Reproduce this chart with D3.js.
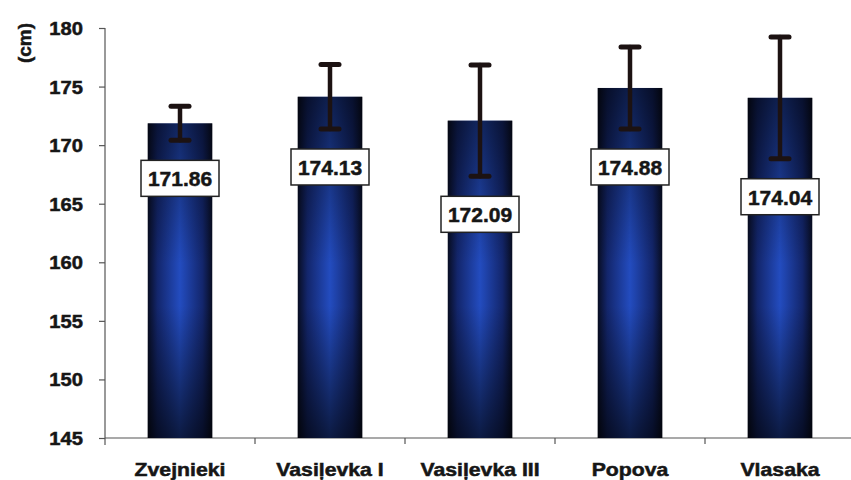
<!DOCTYPE html>
<html>
<head>
<meta charset="utf-8">
<script src="https://cdn.jsdelivr.net/npm/d3@7"></script>
<style>
  html, body { margin: 0; padding: 0; background: #ffffff; }
  svg { display: block; }
  text { font-family: "Liberation Sans", Arial, sans-serif; font-weight: bold; fill: #161616; stroke: #161616; stroke-width: 0.5px; }
</style>
</head>
<body>
<svg id="chart" width="851" height="480"></svg>
<script>
// ---- data ----
const categories = ["Zvejnieki", "Vasiļevka I", "Vasiļevka III", "Popova", "Vlasaka"];
const means = [171.86, 174.13, 172.09, 174.88, 174.04];
const errors = [1.45, 2.75, 4.75, 3.5, 5.2];
const yTicks = [145, 150, 155, 160, 165, 170, 175, 180];
const yLabel = "(cm)";

// ---- layout ----
const W = 851, H = 480;
const plotLeft = 105, plotTop = 28, plotBottom = 438, plotRight = 855;

const svg = d3.select("#chart");
const defs = svg.append("defs");

const hg = defs.append("linearGradient").attr("id", "barH")
  .attr("x1", "0").attr("x2", "1").attr("y1", "0").attr("y2", "0");
hg.append("stop").attr("offset", "0%").attr("stop-color", "#080d22");
hg.append("stop").attr("offset", "15%").attr("stop-color", "#13266c");
hg.append("stop").attr("offset", "50%").attr("stop-color", "#234cbf");
hg.append("stop").attr("offset", "85%").attr("stop-color", "#13266c");
hg.append("stop").attr("offset", "100%").attr("stop-color", "#080d22");

const vg = defs.append("linearGradient").attr("id", "barV")
  .attr("gradientUnits", "userSpaceOnUse")
  .attr("x1", 0).attr("x2", 0).attr("y1", 90).attr("y2", plotBottom);
vg.append("stop").attr("offset", "0%").attr("stop-color", "#000").attr("stop-opacity", 0.6);
vg.append("stop").attr("offset", "50%").attr("stop-color", "#000").attr("stop-opacity", 0.0);
vg.append("stop").attr("offset", "62%").attr("stop-color", "#000").attr("stop-opacity", 0.0);
vg.append("stop").attr("offset", "100%").attr("stop-color", "#000").attr("stop-opacity", 0.65);

const x = d3.scaleBand().domain(categories).range([plotLeft, plotRight]).paddingInner(0).paddingOuter(0);
const y = d3.scaleLinear().domain([145, 180]).range([plotBottom, plotTop]);
const barW = x.bandwidth() * 0.43;

// y axis
const yAxis = svg.append("g").attr("transform", `translate(${plotLeft},0)`)
  .call(d3.axisLeft(y).tickValues(yTicks).tickSize(6).tickPadding(0).tickFormat(d3.format("d")));
yAxis.select(".domain").attr("stroke", "#555").attr("stroke-width", 1.2).attr("d", `M0,${plotTop}V${plotBottom + 7}`);
yAxis.selectAll(".tick line").attr("stroke", "#555").attr("stroke-width", 1.2);
yAxis.selectAll(".tick text").remove();
yAxis.selectAll(".tick").append("text")
  .attr("text-anchor", "end")
  .attr("transform", "translate(-22,6.5) scale(1.12,1)")
  .style("font-size", "18px")
  .text(d => d);

// y label
svg.append("text")
  .attr("transform", "translate(31,43) rotate(-90)")
  .attr("text-anchor", "middle")
  .style("font-size", "19px")
  .text(yLabel);

// x axis
const xAxis = svg.append("g").attr("transform", `translate(0,${plotBottom})`);
xAxis.append("line").attr("x1", plotLeft).attr("x2", W).attr("y1", 0).attr("y2", 0)
  .attr("stroke", "#555").attr("stroke-width", 1.2);
xAxis.selectAll("line.tk").data(categories.slice(1)).enter().append("line")
  .attr("class", "tk")
  .attr("x1", d => x(d)).attr("x2", d => x(d)).attr("y1", 0).attr("y2", 6)
  .attr("stroke", "#555").attr("stroke-width", 1.2);
xAxis.selectAll("text.cat").data(categories).enter().append("text")
  .attr("class", "cat")
  .attr("text-anchor", "middle")
  .attr("transform", d => `translate(${x(d) + x.bandwidth() / 2},38) scale(1.18,1)`)
  .style("font-size", "18px")
  .text(d => d);

// bars
const data = categories.map((c, i) => ({ c, m: means[i], e: errors[i] }));
const g = svg.append("g");
g.selectAll("rect.bar").data(data).enter().append("rect")
  .attr("class", "bar")
  .attr("x", d => x(d.c) + x.bandwidth() / 2 - barW / 2)
  .attr("width", barW)
  .attr("y", d => y(d.m))
  .attr("height", d => y(145) - y(d.m))
  .attr("fill", "url(#barH)");
g.selectAll("rect.shade").data(data).enter().append("rect")
  .attr("class", "shade")
  .attr("x", d => x(d.c) + x.bandwidth() / 2 - barW / 2)
  .attr("width", barW)
  .attr("y", d => y(d.m))
  .attr("height", d => y(145) - y(d.m))
  .attr("fill", "url(#barV)");

// error bars
const eb = svg.append("g").attr("stroke", "#1c1212").attr("stroke-linecap", "round");
eb.selectAll("line.v").data(data).enter().append("line")
  .attr("x1", d => x(d.c) + x.bandwidth() / 2).attr("x2", d => x(d.c) + x.bandwidth() / 2)
  .attr("y1", d => y(d.m + d.e)).attr("y2", d => y(d.m - d.e))
  .attr("stroke-width", 4.5);
eb.selectAll("line.cu").data(data).enter().append("line")
  .attr("x1", d => x(d.c) + x.bandwidth() / 2 - 9).attr("x2", d => x(d.c) + x.bandwidth() / 2 + 9)
  .attr("y1", d => y(d.m + d.e)).attr("y2", d => y(d.m + d.e))
  .attr("stroke-width", 5);
eb.selectAll("line.cl").data(data).enter().append("line")
  .attr("x1", d => x(d.c) + x.bandwidth() / 2 - 9).attr("x2", d => x(d.c) + x.bandwidth() / 2 + 9)
  .attr("y1", d => y(d.m - d.e)).attr("y2", d => y(d.m - d.e))
  .attr("stroke-width", 5);

// value labels
const boxW = 78, boxH = 36;
const lab = svg.append("g").selectAll("g").data(data).enter().append("g")
  .attr("transform", d => `translate(${x(d.c) + x.bandwidth() / 2},${y(d.m - d.e) + 38})`);
lab.append("rect")
  .attr("x", -boxW / 2).attr("y", -boxH / 2).attr("width", boxW).attr("height", boxH)
  .attr("fill", "#ffffff").attr("stroke", "#222").attr("stroke-width", 1.5);
lab.append("text")
  .attr("text-anchor", "middle")
  .attr("y", 8)
  .style("font-size", "21px")
  .text(d => d.m.toFixed(2));
</script>
</body>
</html>
